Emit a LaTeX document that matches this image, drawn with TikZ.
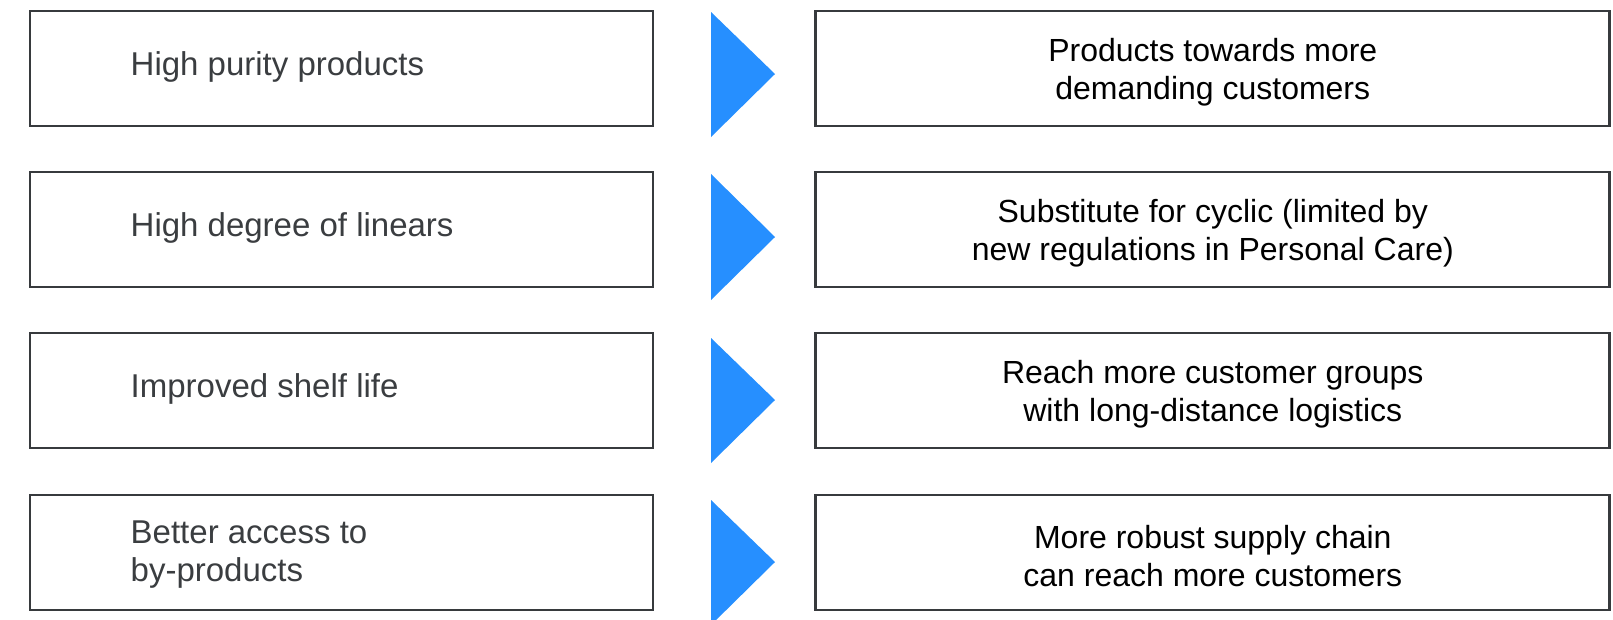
\documentclass[tikz,border=0pt]{standalone}
\usepackage{fontspec}
\setmainfont{Liberation Sans}
\usepackage{tikz}
\usetikzlibrary{positioning,calc}
\definecolor{boxline}{RGB}{55,58,61}
\definecolor{lefttext}{RGB}{58,61,64}
\definecolor{arrowblue}{RGB}{38,143,255}
\tikzset{
  leftbox/.style={
    rectangle,
    draw=boxline, line width=2.8pt,
    minimum width=623pt,
    minimum height=115pt,
    inner sep=0pt, outer sep=0pt},
  rightbox/.style={
    leftbox,
    minimum width=794pt},
  ltxt/.style={
    anchor=west, inner sep=0pt,
    text=lefttext, align=left,
    font=\fontsize{33pt}{37.6pt}\selectfont},
  rtxt/.style={
    inner sep=0pt,
    text=black, align=center,
    font=\fontsize{32pt}{37.6pt}\selectfont},
}

\begin{document}
\begin{tikzpicture}[
    x=1pt, y=-1pt,
    pointer/.style={fill=arrowblue}
    ]
	\useasboundingbox (0,0) rectangle (1613,619);

	\node[leftbox] (l1) at (341.5,68.5) {};
	\node[leftbox] (l2) at (341.5,229.5) {};
	\node[leftbox] (l3) at (341.5,390.5) {};
	\node[leftbox] (l4) at (341.5,552.5) {};

	\node[rightbox] (r1) at (1212.8,68.5) {};
	\node[rightbox] (r2) at (1212.8,229.5) {};
	\node[rightbox] (r3) at (1212.8,390.5) {};
	\node[rightbox] (r4) at (1212.8,552.5) {};

	\node[ltxt] (lt1) at ([xshift=100.5pt,yshift=1.5pt]l1.west) {High purity products};
	\node[ltxt] (lt2) at ([xshift=100.5pt,yshift=1.5pt]l2.west) {High degree of linears};
	\node[ltxt] (lt3) at ([xshift=100.5pt,yshift=1.5pt]l3.west) {Improved shelf life};
	\node[ltxt] (lt4) at ([xshift=100.5pt,yshift=-2pt]l4.west) {Better access to\\by-products};

	\node[rtxt] (rt1) at ([yshift=-3.8pt]r1.center) {Products towards more\\demanding customers};
	\node[rtxt] (rt2) at ([yshift=-3.8pt]r2.center) {Substitute for cyclic (limited by\\new regulations in Personal Care)};
	\node[rtxt] (rt3) at ([yshift=-3.8pt]r3.center) {Reach more customer groups\\with long-distance logistics};
	\node[rtxt] (rt4) at ([yshift=-3.8pt]r4.center) {More robust supply chain\\can reach more customers};

	\fill[pointer] (711,12) -- (775,74) -- (711,137) -- cycle;
	\fill[pointer] (711,174) -- (775,237) -- (711,300) -- cycle;
	\fill[pointer] (711,338) -- (775,400) -- (711,463) -- cycle;
	\fill[pointer] (711,500) -- (775,562) -- (711,625) -- cycle;

\end{tikzpicture}
\end{document}
